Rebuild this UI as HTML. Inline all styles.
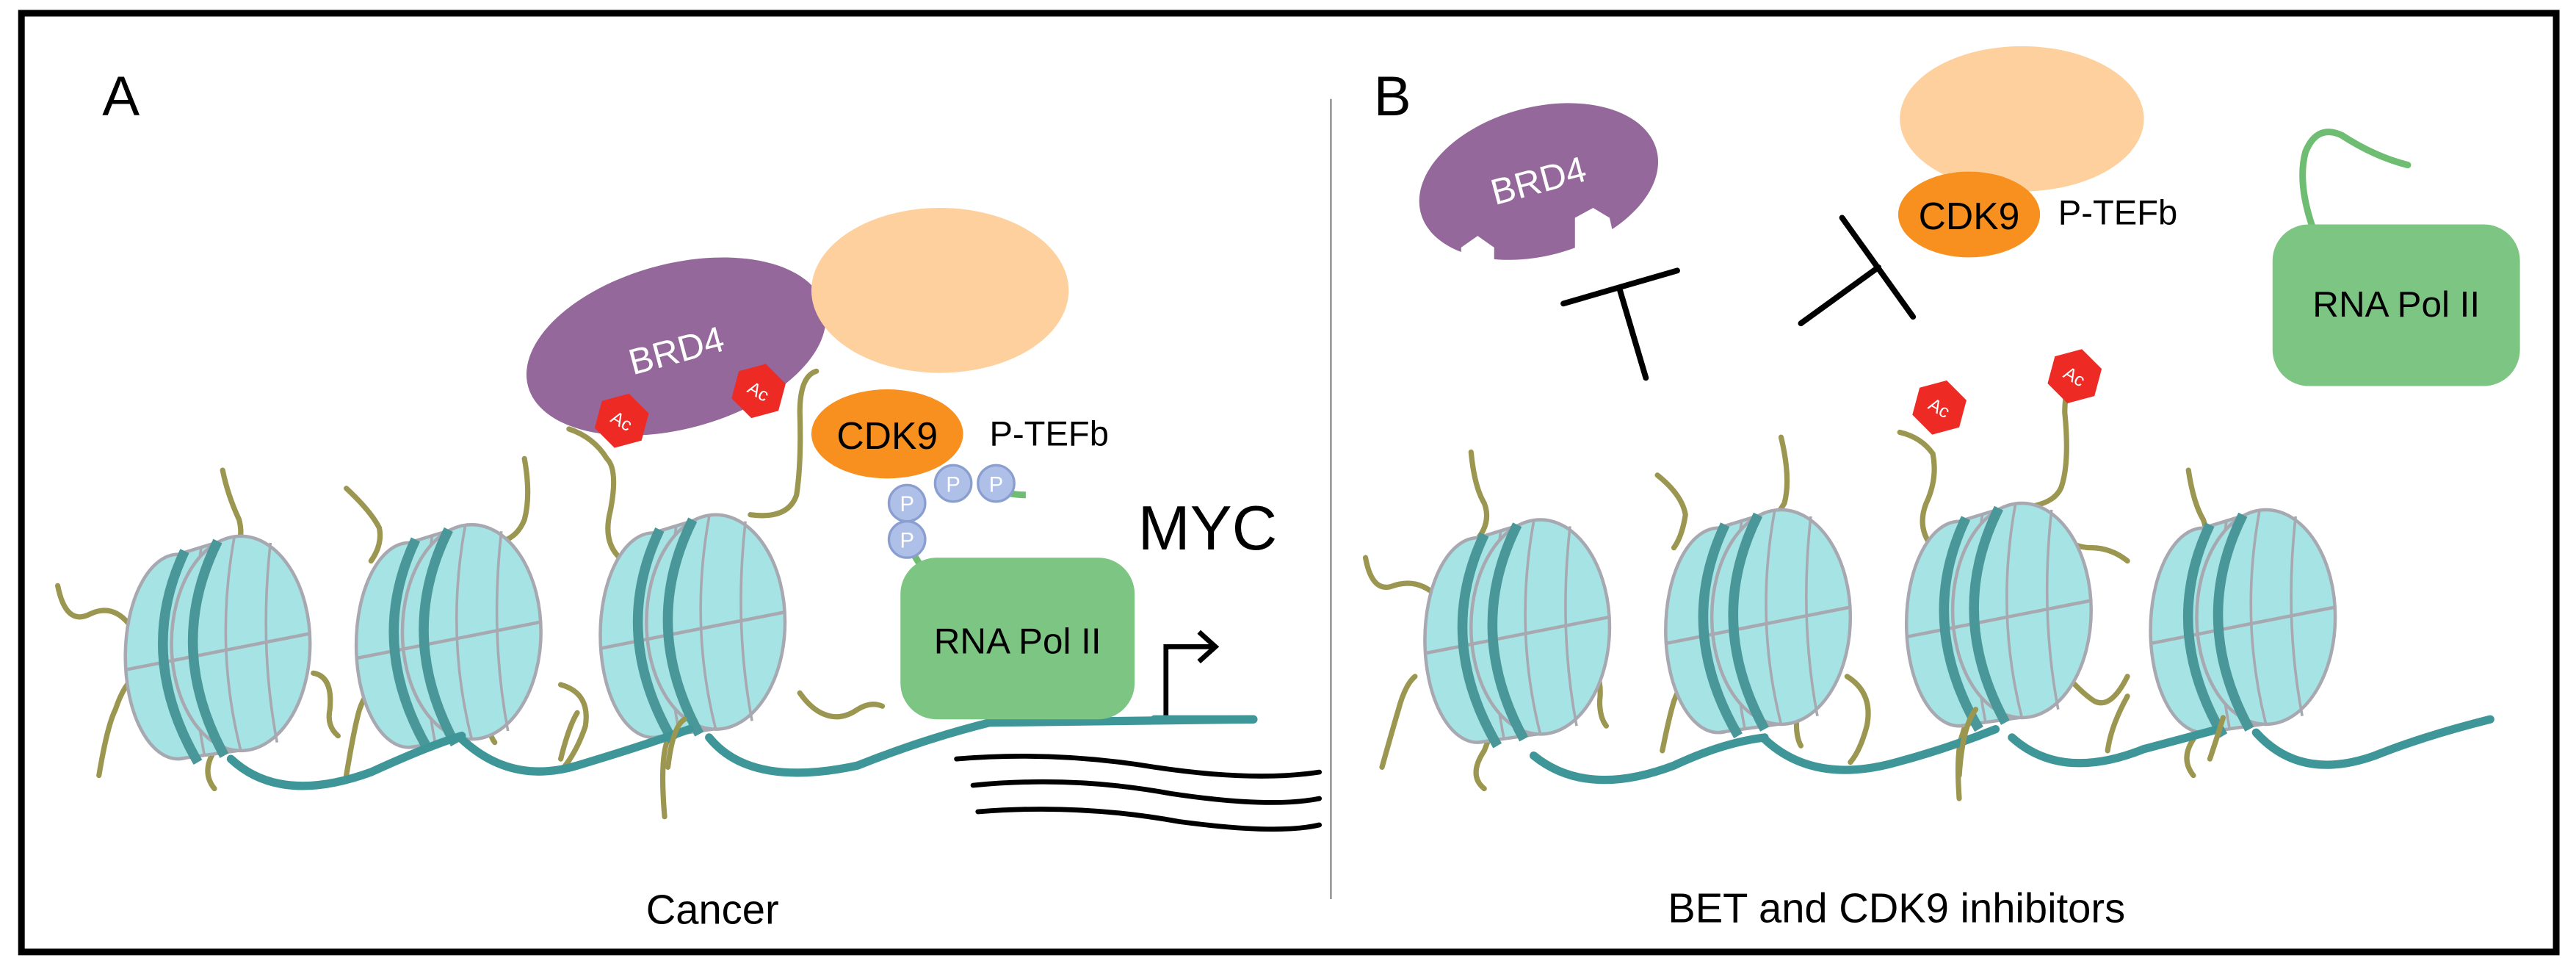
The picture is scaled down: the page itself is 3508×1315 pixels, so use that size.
<!DOCTYPE html>
<html><head><meta charset="utf-8"><style>
html,body{margin:0;padding:0;background:#fff;}
svg{display:block;}
text{font-family:"Liberation Sans",sans-serif;}
</style></head><body>
<svg width="3508" height="1315" viewBox="0 0 1562 585.5" xmlns="http://www.w3.org/2000/svg">
<defs>
<g id="nuc">
  <ellipse cx="36" cy="76" rx="32" ry="62" fill="#a5e3e4" stroke="#a7a8b0" stroke-width="2"/>
  <polygon points="36,14 72,3 72,133 36,138" fill="#a5e3e4"/>
  <line x1="36" y1="14" x2="72" y2="3" stroke="#a7a8b0" stroke-width="2"/>
  <line x1="36" y1="138" x2="72" y2="133" stroke="#a7a8b0" stroke-width="2"/>
  <path d="M50,10 Q40,75 52,136" fill="none" stroke="#a7a8b0" stroke-width="1.6"/>
  <ellipse cx="74" cy="68" rx="42" ry="65" fill="#a5e3e4" stroke="#a7a8b0" stroke-width="2"/>
  <path d="M70,4 Q58,70 74,133" fill="none" stroke="#a7a8b0" stroke-width="1.6"/>
  <path d="M92,7 Q85,70 96,128" fill="none" stroke="#a7a8b0" stroke-width="1.6"/>
  <line x1="4" y1="84" x2="116" y2="62" stroke="#a7a8b0" stroke-width="2"/>
  <path d="M40,12 Q10,75 48,140" fill="none" stroke="#4a9799" stroke-width="6"/>
  <path d="M60,6 Q28,70 64,136" fill="none" stroke="#4a9799" stroke-width="6"/>
</g>
<g id="ac">
  <polygon points="0,-17 14.7,-8.5 14.7,8.5 0,17 -14.7,8.5 -14.7,-8.5" fill="#ee2a24" transform="rotate(15)"/>
  <text x="0" y="4" font-size="11" fill="#fff" text-anchor="middle" transform="rotate(30)">Ac</text>
</g>
</defs>

<rect x="13" y="8" width="1537" height="569" fill="#fff" stroke="#000" stroke-width="4"/>
<line x1="807" y1="60" x2="807" y2="545" stroke="#9a9a9a" stroke-width="1.2"/>
<text x="62" y="70" font-size="34">A</text>
<text x="833" y="70" font-size="34">B</text>

<!-- ============ PANEL A ============ -->
<g fill="none" stroke="#9b9650" stroke-width="3.2" stroke-linecap="round">
  <path d="M35,355 Q40,380 55,372 Q68,366 78,378"/>
  <path d="M135,285 Q138,300 145,315 Q150,335 130,345"/>
  <path d="M60,470 Q65,440 70,430 Q75,415 82,410"/>
  <path d="M130,478 Q122,468 130,455 Q138,440 135,438"/>
  <path d="M190,408 Q202,410 200,430 Q198,440 205,446"/>
  <path d="M210,296 Q225,310 230,320 Q232,330 225,340"/>
  <path d="M318,278 Q322,300 318,315 Q314,325 305,328"/>
  <path d="M210,470 Q215,440 218,430 Q222,418 232,412"/>
  <path d="M280,410 Q295,412 295,430 Q296,445 300,450"/>
  <path d="M340,415 Q358,420 355,440 Q350,455 342,465"/>
  <path d="M403,495 Q400,460 405,448 Q410,440 415,436"/>
  <path d="M485,420 Q492,430 500,433 Q510,437 520,430 Q528,425 535,428"/>
  <path d="M345,260 Q360,265 368,278 Q375,285 370,310 Q365,330 378,340"/>
  <path d="M495,225 Q485,228 485,250 Q486,280 483,300 Q478,315 455,312"/>
</g>
<use href="#nuc" x="72" y="322"/>
<use href="#nuc" x="212" y="315"/>
<use href="#nuc" x="360" y="309"/>
<g fill="none" stroke="#3f9698" stroke-width="5" stroke-linecap="round">
  <path d="M140,460 Q170,488 225,468 Q260,452 280,446"/>
  <path d="M280,448 Q310,476 350,464 Q390,452 418,442"/>
  <path d="M430,447 Q455,478 520,464 Q560,448 600,438 L760,436"/>
</g>
<g fill="none" stroke="#9b9650" stroke-width="3.2" stroke-linecap="round">
  <path d="M405,465 Q408,440 415,436"/>
  <path d="M340,460 Q345,440 350,432"/>
</g>

<ellipse cx="410" cy="210" rx="93" ry="50" transform="rotate(-15 410 210)" fill="#94689a"/>
<text x="410" y="220" font-size="22" fill="#fff" text-anchor="middle" transform="rotate(-15 410 212)">BRD4</text>
<use href="#ac" x="377" y="255"/>
<use href="#ac" x="460" y="237"/>
<ellipse cx="570" cy="176" rx="78" ry="50" fill="#fdd09e"/>
<ellipse cx="538" cy="263" rx="46" ry="27" fill="#f7901e"/>
<text x="538" y="272" font-size="23" text-anchor="middle">CDK9</text>
<text x="600" y="270" font-size="21">P-TEFb</text>
<path d="M600,296 Q612,300 622,300" stroke="#6fbd72" stroke-width="4" fill="none"/>
<path d="M548,320 Q552,335 560,345" stroke="#6fbd72" stroke-width="4" fill="none"/>
<g fill="#aebfe8" stroke="#8a9ed0" stroke-width="1.5">
  <circle cx="550" cy="305" r="11"/><circle cx="578" cy="293" r="11"/><circle cx="604" cy="293" r="11"/><circle cx="550" cy="327" r="11"/>
</g>
<g font-size="13" fill="#fff" text-anchor="middle">
  <text x="550" y="310">P</text><text x="578" y="298">P</text><text x="604" y="298">P</text><text x="550" y="332">P</text>
</g>
<rect x="546" y="338" width="142" height="98" rx="22" fill="#7dc583"/>
<text x="617" y="396" font-size="22" text-anchor="middle">RNA Pol II</text>
<text x="690" y="333" font-size="38">MYC</text>
<path d="M707,437 L707,392 L735,392" stroke="#000" stroke-width="3" fill="none"/>
<path d="M727,383 L737,392 L727,401" stroke="#000" stroke-width="3" fill="none"/>
<line x1="700" y1="436" x2="760" y2="436" stroke="#3f9698" stroke-width="5" stroke-linecap="round"/>
<g fill="none" stroke="#000" stroke-width="3" stroke-linecap="round">
  <path d="M580,460 Q640,455 700,465 Q760,474 800,468"/>
  <path d="M590,476 Q650,470 710,481 Q770,490 800,484"/>
  <path d="M593,492 Q655,487 715,498 Q775,506 800,500"/>
</g>
<text x="432" y="560" font-size="25" text-anchor="middle">Cancer</text>

<!-- ============ PANEL B ============ -->
<g fill="none" stroke="#9b9650" stroke-width="3.2" stroke-linecap="round">
  <path d="M828,338 Q832,360 845,355 Q860,350 872,362"/>
  <path d="M892,274 Q894,295 900,305 Q905,318 893,330"/>
  <path d="M838,465 Q845,440 848,430 Q852,415 858,410"/>
  <path d="M900,478 Q890,470 900,455 Q906,440 905,435"/>
  <path d="M962,400 Q972,408 970,425 Q970,435 974,440"/>
  <path d="M1005,288 Q1020,300 1022,312 Q1020,325 1015,332"/>
  <path d="M1080,265 Q1086,290 1082,305 Q1076,315 1072,318"/>
  <path d="M1008,455 Q1012,435 1015,425 Q1020,412 1026,408"/>
  <path d="M1080,405 Q1094,408 1090,430 Q1088,445 1092,452"/>
  <path d="M1120,410 Q1136,420 1132,440 Q1128,455 1122,462"/>
  <path d="M1188,484 Q1186,455 1190,445 Q1195,428 1200,420"/>
  <path d="M1250,406 Q1262,420 1270,425 Q1280,430 1290,410"/>
  <path d="M1290,422 Q1280,440 1278,455"/>
  <path d="M1327,285 Q1330,305 1336,315 Q1340,325 1332,335"/>
  <path d="M1250,325 Q1258,332 1268,332 Q1280,332 1290,340"/>
  <path d="M1330,470 Q1322,460 1330,448 Q1336,435 1335,430"/>
  <path d="M1152,262 Q1165,265 1172,275 Q1175,290 1168,305 Q1162,320 1172,332"/>
  <path d="M1262,226 Q1252,230 1252,250 Q1255,280 1250,295 Q1245,308 1218,308"/>
</g>
<use href="#nuc" x="860" y="312"/>
<use href="#nuc" x="1006" y="306"/>
<use href="#nuc" x="1152" y="302"/>
<use href="#nuc" x="1300" y="306"/>
<g fill="none" stroke="#3f9698" stroke-width="5" stroke-linecap="round">
  <path d="M930,458 Q962,484 1015,464 Q1045,450 1070,447"/>
  <path d="M1070,448 Q1100,476 1150,462 Q1180,454 1210,442"/>
  <path d="M1220,447 Q1250,474 1300,454 Q1330,446 1345,442"/>
  <path d="M1368,444 Q1395,474 1440,458 Q1470,446 1510,436"/>
</g>
<g fill="none" stroke="#9b9650" stroke-width="3.2" stroke-linecap="round">
  <path d="M1188,470 Q1190,440 1198,430"/>
  <path d="M1340,460 Q1345,445 1348,435"/>
</g>
<use href="#ac" x="1176" y="247"/>
<use href="#ac" x="1258" y="228"/>

<ellipse cx="933" cy="110" rx="74" ry="45" transform="rotate(-15 933 110)" fill="#94689a"/>
<polygon points="886,162 886,150 896,143 906,150 906,162" fill="#fff"/>
<polygon points="955,152 955,132 966,126 976,132 980,150" fill="#fff"/>
<text x="933" y="117" font-size="22" fill="#fff" text-anchor="middle" transform="rotate(-15 933 110)">BRD4</text>
<g stroke="#000" stroke-width="3.5" stroke-linecap="round">
  <line x1="948" y1="184" x2="1017" y2="164"/>
  <line x1="982" y1="175" x2="998" y2="229"/>
  <line x1="1117" y1="132" x2="1160" y2="192"/>
  <line x1="1139" y1="162" x2="1092" y2="196"/>
</g>
<ellipse cx="1226" cy="72" rx="74" ry="44" fill="#fdd09e"/>
<ellipse cx="1194" cy="130" rx="43" ry="26" fill="#f7901e"/>
<text x="1194" y="139" font-size="23" text-anchor="middle">CDK9</text>
<text x="1248" y="136" font-size="21">P-TEFb</text>
<path d="M1402,137 Q1393,110 1398,92 Q1405,75 1420,82 Q1440,95 1460,100" fill="none" stroke="#6fbd72" stroke-width="4" stroke-linecap="round"/>
<rect x="1378" y="136" width="150" height="98" rx="22" fill="#7dc583"/>
<text x="1453" y="192" font-size="22" text-anchor="middle">RNA Pol II</text>
<text x="1150" y="559" font-size="25" text-anchor="middle">BET and CDK9 inhibitors</text>
</svg>
</body></html>
